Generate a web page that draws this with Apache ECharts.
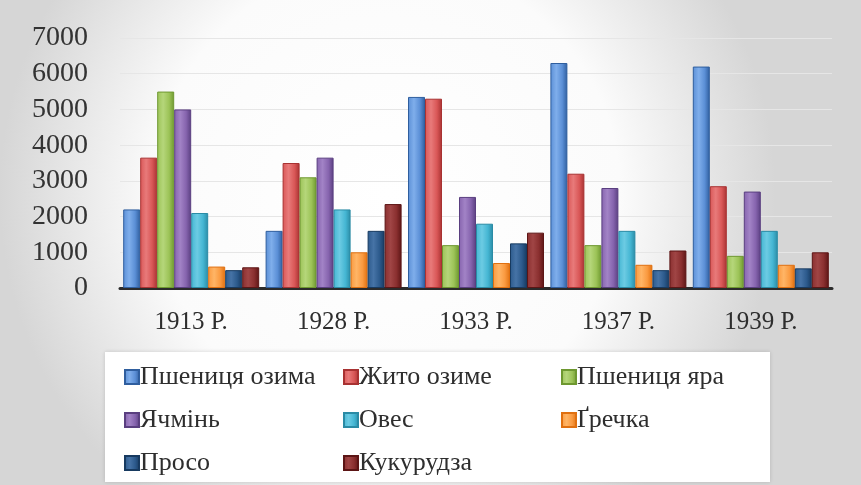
<!DOCTYPE html>
<html>
<head>
<meta charset="utf-8">
<script src="https://cdn.jsdelivr.net/npm/echarts@6/dist/echarts.min.js"></script>
<style>
  html, body { margin: 0; padding: 0; }
  #chart { width: 861px; height: 485px; }
</style>
</head>
<body>
<div id="chart"></div>
<script>
var years = ['1913 Р.', '1928 Р.', '1933 Р.', '1937 Р.', '1939 Р.'];

var pshenytsiaOzyma = [2200, 1600, 5350, 6300, 6200];
var zhytoOzyme = [3650, 3500, 5300, 3200, 2850];
var pshenytsiaYara = [5500, 3100, 1200, 1200, 900];
var yachmin = [5000, 3650, 2550, 2800, 2700];
var oves = [2100, 2200, 1800, 1600, 1600];
var hrechka = [600, 1000, 700, 650, 650];
var proso = [500, 1600, 1250, 500, 550];
var kukurudza = [580, 2350, 1550, 1050, 1000];

var yTicks = [0, 1000, 2000, 3000, 4000, 5000, 6000, 7000];

var serif = '"Liberation Serif", "Times New Roman", serif';

// колір заливки, світліший відтінок, колір рамки
var seriesList = [
    {name: 'Пшениця озима', data: pshenytsiaOzyma, color: '#5B8FD6', light: '#7FAEEB', border: '#2F5E9E'},
    {name: 'Жито озиме', data: zhytoOzyme, color: '#D95757', light: '#E87A7A', border: '#A83232'},
    {name: 'Пшениця яра', data: pshenytsiaYara, color: '#9CC357', light: '#B5D67A', border: '#6E9830'},
    {name: 'Ячмінь', data: yachmin, color: '#8664AE', light: '#A283C6', border: '#5A3F80'},
    {name: 'Овес', data: oves, color: '#45B6D3', light: '#6CCBE3', border: '#2A8BA5'},
    {name: 'Ґречка', data: hrechka, color: '#FA9A40', light: '#FFB566', border: '#E07010'},
    {name: 'Просо', data: proso, color: '#2C5A8C', light: '#4673A6', border: '#173A60'},
    {name: 'Кукурудза', data: kukurudza, color: '#8A2F2F', light: '#A04545', border: '#5C1515'}
];

function makeSeries(s) {
    return {
        name: s.name,
        type: 'bar',
        data: s.data,
        barWidth: 17,
        barGap: '0%',
        itemStyle: {
            color: {
                type: 'linear', x: 0, y: 0, x2: 1, y2: 0,
                colorStops: [
                    {offset: 0, color: s.color},
                    {offset: 0.35, color: s.light},
                    {offset: 0.7, color: s.color},
                    {offset: 1, color: s.border}
                ]
            },
            borderColor: s.border,
            borderWidth: 1
        }
    };
}

function makeLegend(names, left) {
    return {
        orient: 'vertical',
        left: left,
        top: 359,
        itemWidth: 14,
        itemHeight: 14,
        itemGap: 17,
        icon: 'rect',
        data: names,
        textStyle: {
            fontFamily: serif,
            fontSize: 26,
            lineHeight: 26,
            color: '#2e2e2e',
            padding: [0, 0, 0, -4]
        }
    };
}

var option = {
    textStyle: {fontFamily: serif},
    backgroundColor: {
        type: 'radial', x: 0.45, y: 0.4, r: 0.8,
        colorStops: [
            {offset: 0, color: '#ffffff'},
            {offset: 0.6, color: '#fbfbfb'},
            {offset: 1, color: '#d6d6d6'}
        ]
    },
    animation: false,
    graphic: [{
        type: 'rect',
        left: 105,
        top: 352,
        shape: {width: 665, height: 130},
        style: {fill: '#ffffff', shadowBlur: 4, shadowColor: 'rgba(0,0,0,0.15)'},
        z: 0
    }],
    legend: [
        makeLegend(['Пшениця озима', 'Ячмінь', 'Просо'], 119),
        makeLegend(['Жито озиме', 'Овес', 'Кукурудза'], 338),
        makeLegend(['Пшениця яра', 'Ґречка'], 556)
    ],
    grid: {
        left: 120,
        right: 29,
        top: 38,
        bottom: 197,
        containLabel: false
    },
    xAxis: {
        type: 'category',
        data: years,
        axisLine: {lineStyle: {color: '#2b2b2b', width: 3}},
        axisTick: {show: false},
        axisLabel: {
            fontFamily: serif,
            fontSize: 25,
            color: '#2e2e2e',
            margin: 22
        }
    },
    yAxis: {
        type: 'value',
        min: yTicks[0],
        max: yTicks[yTicks.length - 1],
        interval: 1000,
        axisLine: {show: false},
        axisTick: {show: false},
        splitLine: {lineStyle: {color: '#e6e6e6', width: 1}},
        axisLabel: {
            fontFamily: serif,
            fontSize: 28,
            color: '#333333',
            margin: 32,
            formatter: function (v) { return String(v); }
        }
    },
    series: seriesList.map(makeSeries)
};

var myChart = echarts.init(document.getElementById('chart'));
myChart.setOption(option);
</script>
</body>
</html>
